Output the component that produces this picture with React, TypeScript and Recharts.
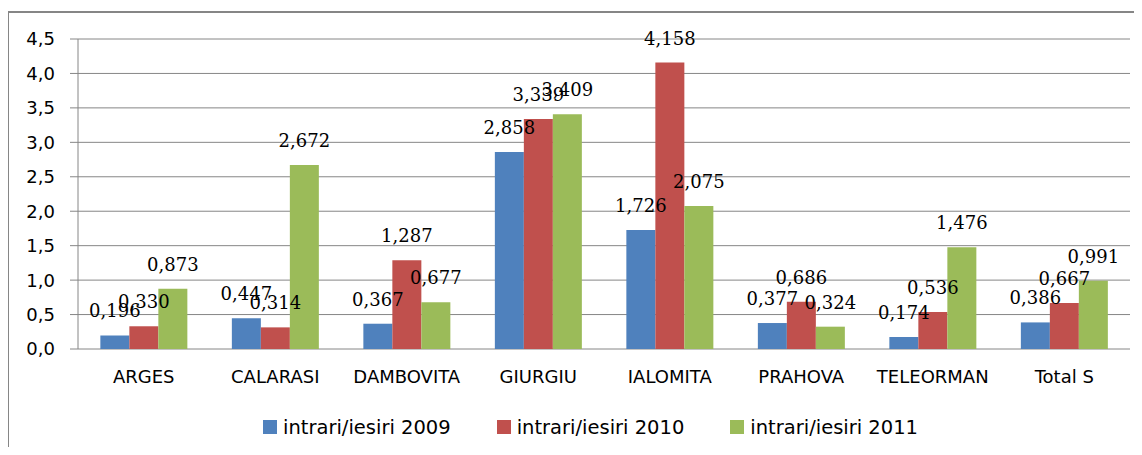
import { BarChart, Bar, XAxis, YAxis, CartesianGrid, Legend, LabelList } from 'recharts';

const categories = ['ARGES', 'CALARASI', 'DAMBOVITA', 'GIURGIU', 'IALOMITA', 'PRAHOVA', 'TELEORMAN', 'Total S'];
const series2009 = [0.196, 0.447, 0.367, 2.858, 1.726, 0.377, 0.174, 0.386];
const series2010 = [0.330, 0.314, 1.287, 3.339, 4.158, 0.686, 0.536, 0.667];
const series2011 = [0.873, 2.672, 0.677, 3.409, 2.075, 0.324, 1.476, 0.991];
const seriesNames = ['intrari/iesiri 2009', 'intrari/iesiri 2010', 'intrari/iesiri 2011'];
const yTicks = [0, 0.5, 1, 1.5, 2, 2.5, 3, 3.5, 4, 4.5];

const COLORS = ['#4F81BD', '#C0504D', '#9BBB59'];
const GRID = '#868686';
const SANS = '"DejaVu Sans", sans-serif';
const SERIF = '"DejaVu Serif", serif';

const data = categories.map((name, i) => ({
  name,
  s2009: series2009[i],
  s2010: series2010[i],
  s2011: series2011[i],
}));

// category boundaries for the tick marks between groups
const edgeTicks = Array.from({ length: categories.length + 1 }, (_, i) => i);

const fmtLabel = (v: any) => Number(v).toFixed(3).replace('.', ',');
const fmtAxis = (v: number) => v.toFixed(1).replace('.', ',');

const renderLegend = (props: any) => {
  const payload = props.payload || [];
  return (
    <div
      style={{
        display: 'flex',
        justifyContent: 'center',
        alignItems: 'center',
        height: 30,
        paddingLeft: 33,
        fontFamily: SANS,
        fontSize: 19.5,
        color: '#000',
      }}
    >
      {payload.map((p: any, i: number) => (
        <span
          key={p.value}
          style={{ display: 'flex', alignItems: 'center', marginRight: i < payload.length - 1 ? 46 : 0 }}
        >
          <span style={{ display: 'inline-block', width: 14, height: 14, background: p.color, marginRight: 6 }} />
          {p.value}
        </span>
      ))}
    </div>
  );
};

export default function App() {
  const keys = ['s2009', 's2010', 's2011'];
  return (
    <div style={{ position: 'relative', width: 1142, height: 455, margin: -8, overflow: 'hidden', background: '#fff' }}>
      <div
        style={{
          position: 'absolute',
          left: 7,
          top: 11,
          width: 2000,
          height: 2000,
          borderLeft: `2px solid ${GRID}`,
          borderTop: `2px solid ${GRID}`,
        }}
      />
      <div style={{ position: 'absolute', left: 20, top: -14, fontFamily: SANS, fontSize: 18, lineHeight: '20px' }}>,</div>
      <div style={{ position: 'absolute', left: 0, top: 0 }}>
        <BarChart
          width={1142}
          height={455}
          data={data}
          margin={{ top: 39, right: 12, left: 18, bottom: 13 }}
          barCategoryGap="17%"
          barGap={0}
        >
          <CartesianGrid vertical={false} stroke={GRID} strokeWidth={1} />
          <XAxis
            xAxisId="edges"
            type="number"
            domain={[0, categories.length]}
            ticks={edgeTicks}
            interval={0}
            height={0}
            tick={false}
            axisLine={false}
            tickLine={{ stroke: GRID }}
            tickSize={7}
          />
          <XAxis
            dataKey="name"
            height={63}
            interval={0}
            axisLine={false}
            tickLine={false}
            tickSize={8}
            tickMargin={13}
            tick={{ fontFamily: SANS, fontSize: 18, fill: '#000' }}
          />
          <YAxis
            width={60}
            domain={[0, 4.5]}
            ticks={yTicks}
            interval={0}
            tickFormatter={fmtAxis}
            axisLine={{ stroke: GRID }}
            tickLine={{ stroke: GRID }}
            tickSize={8}
            tickMargin={15}
            tick={{ fontFamily: SANS, fontSize: 18, fill: '#000' }}
          />
          <Legend verticalAlign="bottom" height={30} content={renderLegend} />
          {keys.map((k, i) => (
            <Bar key={k} dataKey={k} name={seriesNames[i]} fill={COLORS[i]} isAnimationActive={false}>
              <LabelList
                dataKey={k}
                position="top"
                offset={18}
                formatter={fmtLabel}
                style={{ fontFamily: SERIF, fontSize: 18, fill: '#000' }}
              />
            </Bar>
          ))}
        </BarChart>
      </div>
    </div>
  );
}
